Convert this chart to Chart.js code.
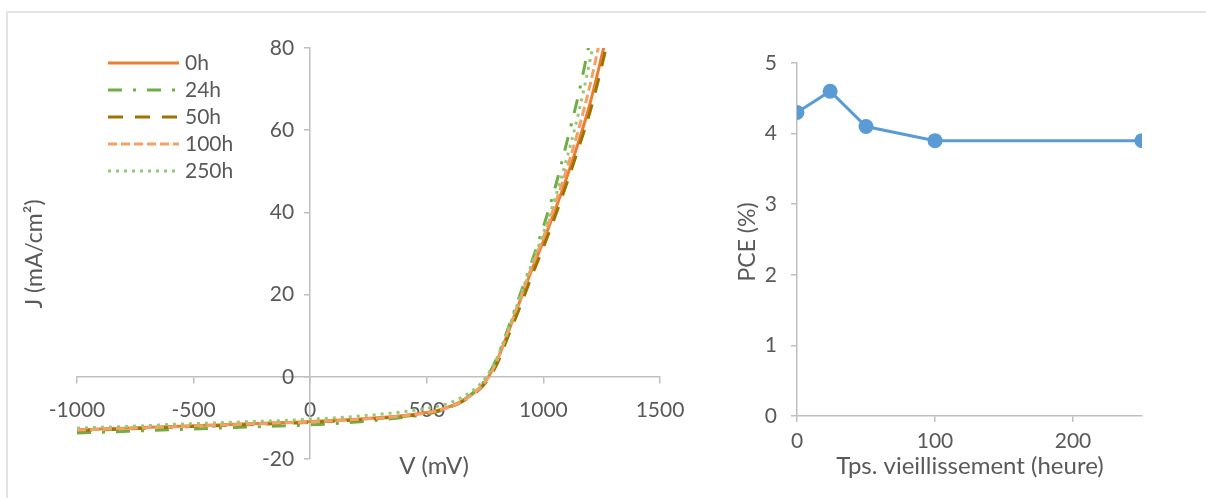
<!DOCTYPE html>
<html>
<head>
<meta charset="utf-8">
<script src="https://cdn.jsdelivr.net/npm/chart.js@4/dist/chart.umd.min.js"></script>
<style>
body { margin: 0; background: #fff; width: 1206px; height: 498px; overflow: hidden; position: relative; }
#frame { position: absolute; left: 6px; top: 11px; width: 1300px; height: 600px; border: 2px solid #e4e4e4; }
#jvBox { position: absolute; left: 0; top: 0; }
#pceBox { position: absolute; left: 700px; top: 0; }
</style>
</head>
<body>
<div id="frame"></div>
<canvas id="jvBox" width="700" height="498"></canvas>
<canvas id="pceBox" width="506" height="498"></canvas>
<script>
// J-V curves (V in mV, J in mA/cm2)
const voltage = [-1000, -900, -800, -700, -600, -500, -400, -300, -200, -100, 0, 100, 200, 300, 400, 500,
    550, 600, 650, 700, 750, 800, 850, 900, 950, 1000, 1050, 1100, 1150, 1200, 1250, 1300];
const j0h = [-12.9, -12.7, -12.5, -12.3, -12.1, -11.9, -11.7, -11.5, -11.3, -11.1, -10.9, -10.6, -10.3, -9.9, -9.4, -8.7,
    -8.1, -7.2, -5.9, -4.0, -1.2, 3.8, 11.0, 18.5, 26.0, 33.0, 40.5, 48.5, 57.0, 66.5, 78.0, 90.0];
const j24h = [-13.7, -13.5, -13.3, -13.1, -12.9, -12.7, -12.5, -12.3, -12.1, -11.9, -11.7, -11.4, -11.0, -10.5, -9.9, -9.1,
    -8.4, -7.4, -5.9, -3.8, -0.8, 4.5, 12.0, 20.0, 28.0, 36.5, 46.0, 57.0, 68.5, 82.0, 95.0, 108.0];
const j50h = [-13.1, -12.9, -12.7, -12.5, -12.3, -12.1, -11.9, -11.7, -11.5, -11.3, -11.1, -10.8, -10.5, -10.1, -9.6, -8.9,
    -8.3, -7.4, -6.1, -4.3, -1.6, 3.0, 10.0, 17.0, 24.5, 31.5, 39.0, 47.0, 55.5, 64.5, 75.5, 88.0];
const j100h = [-13.0, -12.8, -12.6, -12.4, -12.2, -12.0, -11.8, -11.6, -11.4, -11.2, -11.0, -10.7, -10.4, -10.0, -9.5, -8.8,
    -8.2, -7.3, -6.0, -4.1, -1.3, 3.8, 11.3, 19.0, 26.8, 34.0, 42.0, 50.5, 60.0, 71.0, 84.0, 98.0];
const j250h = [-12.5, -12.3, -12.1, -11.9, -11.6, -11.4, -11.2, -11.0, -10.8, -10.6, -10.3, -10.0, -9.6, -9.1, -8.5, -7.7,
    -7.1, -6.3, -5.0, -3.2, -0.4, 4.5, 11.8, 19.5, 27.5, 35.0, 43.5, 53.0, 64.0, 77.0, 91.0, 105.0];
const seriesNames = ['0h', '24h', '50h', '100h', '250h'];

// PCE vs ageing time
const hours = [0, 24, 50, 100, 250];
const pce = [4.3, 4.6, 4.1, 3.9, 3.9];

Chart.defaults.font.family = 'Lato';
Chart.defaults.font.size = 21;
Chart.defaults.color = '#595959';

const axisGray = '#bfbfbf';

function toPoints(xs, ys) {
    return xs.map((x, i) => ({ x: x, y: ys[i] }));
}

// axis titles drawn at fixed spots
const titlesPlugin = {
    id: 'titles',
    afterDraw(chart, args, opts) {
        const ctx = chart.ctx;
        ctx.save();
        ctx.fillStyle = '#595959';
        ctx.textAlign = 'center';
        ctx.textBaseline = 'middle';
        opts.items.forEach(t => {
            ctx.save();
            ctx.font = t.size + 'px Lato';
            ctx.translate(t.x, t.y);
            if (t.rotate) ctx.rotate(-Math.PI / 2);
            ctx.fillText(t.text, 0, 0);
            ctx.restore();
        });
        ctx.restore();
    }
};

// legend with the same dashes as the lines
const lineLegend = {
    id: 'lineLegend',
    afterDraw(chart, args, opts) {
        if (!opts.show) return;
        const ctx = chart.ctx;
        ctx.save();
        chart.data.datasets.forEach((ds, i) => {
            const y = opts.top + i * opts.gap;
            ctx.strokeStyle = ds.borderColor;
            ctx.lineWidth = ds.borderWidth;
            ctx.setLineDash(ds.borderDash || []);
            ctx.beginPath();
            ctx.moveTo(opts.x1, y);
            ctx.lineTo(opts.x2, y);
            ctx.stroke();
            ctx.setLineDash([]);
            ctx.fillStyle = '#595959';
            ctx.font = '21px Lato';
            ctx.textBaseline = 'middle';
            ctx.fillText(ds.label, opts.x2 + 6, y);
        });
        ctx.restore();
    }
};

const lineStyles = [
    { color: '#ed7d31', dash: [] },
    { color: '#70ad47', dash: [14, 11, 3, 11] },
    { color: '#9c7400', dash: [15, 12] },
    { color: '#f4a066', dash: [9, 4] },
    { color: '#95c972', dash: [3, 5] }
];
const jSeries = [j0h, j24h, j50h, j100h, j250h];

const jvChart = new Chart(document.getElementById('jvBox'), {
    type: 'line',
    data: {
        datasets: jSeries.map((js, i) => ({
            label: seriesNames[i],
            data: toPoints(voltage, js),
            borderColor: lineStyles[i].color,
            borderDash: lineStyles[i].dash,
            borderWidth: 3,
            pointRadius: 0,
            cubicInterpolationMode: 'monotone',
            order: 4 - i
        }))
    },
    options: {
        responsive: false,
        animation: false,
        layout: { padding: { left: 77, right: 40, top: 48, bottom: 39 } },
        plugins: {
            legend: { display: false },
            tooltip: { enabled: false },
            lineLegend: { show: true, x1: 108, x2: 179, top: 63, gap: 27 },
            titles: {
                items: [
                    { text: 'J (mA/cm²)', x: 35, y: 254, rotate: true, size: 23 },
                    { text: 'V (mV)', x: 434, y: 466, size: 24 }
                ]
            }
        },
        scales: {
            x: {
                type: 'linear', min: -1000, max: 1500, position: { y: 0 },
                ticks: { stepSize: 500, autoSkip: false, maxRotation: 0, padding: 15, callback: v => String(v) },
                grid: { drawOnChartArea: false, tickLength: 6, color: axisGray, lineWidth: 1.5 },
                border: { color: axisGray, width: 1.5 }
            },
            y: {
                type: 'linear', min: -20, max: 80, position: { x: 0 },
                // labels sit against the axis here, trailing spaces push them left
                ticks: { stepSize: 20, callback: v => String(v) + '   ' },
                grid: { drawOnChartArea: false, tickLength: 5, color: axisGray, lineWidth: 1.5 },
                border: { color: axisGray, width: 1.5 }
            }
        }
    },
    plugins: [titlesPlugin, lineLegend]
});

const pceChart = new Chart(document.getElementById('pceBox'), {
    type: 'line',
    data: {
        datasets: [{
            label: 'PCE',
            data: toPoints(hours, pce),
            borderColor: '#5b9bd5',
            backgroundColor: '#5b9bd5',
            borderWidth: 3,
            pointRadius: 7.5,
            pointBorderWidth: 0
        }]
    },
    options: {
        responsive: false,
        animation: false,
        layout: { padding: { left: 0, right: 64, top: 63, bottom: 0 } },
        plugins: {
            legend: { display: false },
            tooltip: { enabled: false },
            titles: {
                items: [
                    { text: 'PCE (%)', x: 48, y: 242, rotate: true, size: 23 },
                    { text: 'Tps. vieillissement (heure)', x: 270, y: 466, size: 24 }
                ]
            }
        },
        scales: {
            x: {
                type: 'linear', min: 0, max: 250, position: 'bottom',
                afterBuildTicks: scale => { scale.ticks = scale.ticks.filter(t => t.value % 100 === 0); },
                afterFit: scale => { scale.height = 82; },
                ticks: { stepSize: 100, autoSkip: false, maxRotation: 0, padding: 7, callback: v => String(v) },
                grid: { drawOnChartArea: false, tickLength: 6, color: axisGray, lineWidth: 1.5 },
                border: { color: axisGray, width: 1.5 }
            },
            y: {
                type: 'linear', min: 0, max: 5, position: 'left',
                afterFit: scale => { scale.width = 97; },
                ticks: { stepSize: 1, padding: 14 },
                grid: { drawOnChartArea: false, tickLength: 6, color: axisGray, lineWidth: 1.5 },
                border: { color: axisGray, width: 1.5 }
            }
        }
    },
    plugins: [titlesPlugin]
});
</script>
</body>
</html>
